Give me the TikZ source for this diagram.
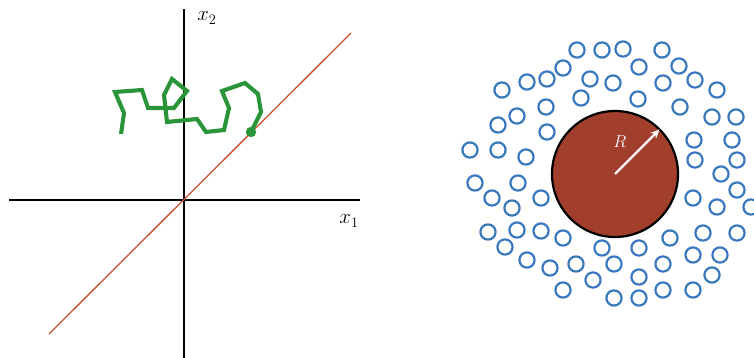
\documentclass[tikz,border=0pt]{standalone}
\usetikzlibrary{arrows.meta}
\definecolor{axisred}{HTML}{C8502E}
\definecolor{walkgreen}{HTML}{2A9438}
\definecolor{ringblue}{HTML}{3A78BE}
\definecolor{ballred}{HTML}{A23E2C}
\tikzset{
  axisline/.style={line width=1.6pt, black},
  walk/.style={line width=4.1pt, walkgreen, line join=miter},
  ring/.style={line width=2.2pt, ringblue},
  ball/.style={fill=ballred, draw=black, line width=2.2pt},
  biglabel/.style={inner sep=0pt, font=\huge},
}
\begin{document}
\begin{tikzpicture}[x=1pt,y=-1pt]
\useasboundingbox (0,0) rectangle (754,358);
% ---------- left panel ----------
\coordinate (O) at (184,200);
\coordinate (xl) at (9,200);
\coordinate (xr) at (360,200);
\coordinate (yt) at (184,9);
\coordinate (yb) at (184,358);
\coordinate (dl) at (49,334);
\coordinate (dr) at (351,33);
\draw[axisline] (xl) -- (xr);
\draw[axisline] (yt) -- (yb);
\draw[axisred, line width=1.3pt] (dl) -- (dr);
\node[biglabel] (lx1) at (349,221) {$x_1$};
\node[biglabel] (lx2) at (207,18) {$x_2$};
\draw[walk] (121,134) -- (124,113) -- (115,92) -- (142,90) -- (148,108) -- (174,108)
  -- (187,91) -- (172,79) -- (164,95) -- (167,122) -- (197,119) -- (206,132)
  -- (224,130) -- (229,108) -- (222,91) -- (245,83) -- (258,94) -- (261,112) -- (251,132);
\fill[walkgreen] (251,132) circle (5.2);
% ---------- right panel ----------
\coordinate (C) at (615,174);
\draw[ball] (C) circle (63);
\draw[white, line width=2.2pt, -{Stealth[length=9pt,width=8pt]}] (C) -- ++(-45:63);
\node[white, inner sep=0pt, font=\LARGE] (lR) at (620,142) {$R$};
\foreach \p in {
 (577,50),(602,50),(623,49),(662,50),
 (563,68),(639,67),(679,66),
 (547,79),(527,82),(590,79),(613,83),(663,83),(695,80),(717,90),
 (502,90),(581,98),(638,99),
 (546,107),(680,107),
 (517,116),(498,125),(712,117),(736,117),
 (547,132),(694,140),(732,140),
 (470,150),(498,150),(526,157),(695,160),(737,160),
 (475,183),(518,183),(721,174),(737,190),
 (492,198),(541,198),(693,198),(512,208),(717,207),(751,207),
 (488,232),(517,230),(541,231),(563,238),(670,238),(703,233),(737,233),
 (505,247),(602,248),(639,248),(693,255),(720,255),
 (527,260),(576,264),(614,264),(663,264),(550,268),
 (593,280),(639,277),(712,275),
 (563,290),(614,298),(639,298),(663,290),(693,290)}
 \draw[ring] \p circle (7.6);
\end{tikzpicture}
\end{document}
